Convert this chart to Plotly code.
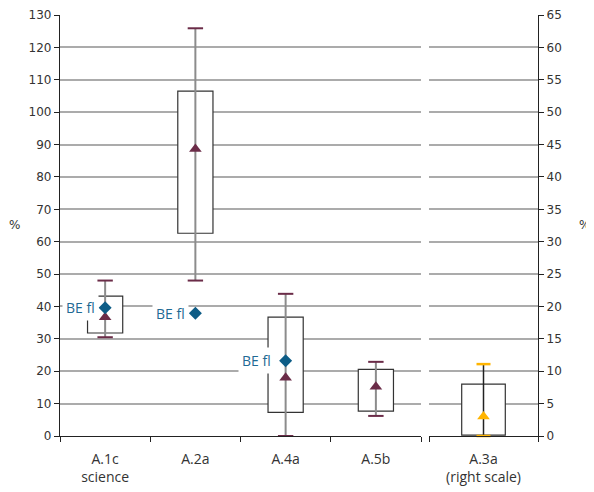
import plotly.graph_objects as go

# ---- data (left scale) ----
categories = ["A.1c<br>science", "A.2a", "A.4a", "A.5b"]
q1 = [31.8, 62.6, 7.3, 7.7]
q3 = [43.2, 106.5, 36.7, 20.6]
lo = [30.5, 48.0, 0.0, 6.2]
hi = [48.0, 125.9, 43.9, 22.9]
mean = [36.7, 88.6, 18.0, 15.2]
be_fl = [39.6, 37.9, 23.2, None]

# ---- data (right scale) ----
r_categories = ["A.3a<br>(right scale)"]
r_q1 = [0.15]
r_q3 = [8.0]
r_lo = [0.0]
r_hi = [11.1]
r_mean = [3.0]

MAROON = "#6B2C48"
GRAY = "#8C8C8C"
BLUE = "#0D5C86"
ORANGE = "#FFB400"
GRID = "#ABABAB"

fig = go.Figure()

# boxes
fig.add_trace(go.Bar(x=categories, base=q1, y=[b - a for a, b in zip(q1, q3)],
                     width=0.39, marker=dict(color="white", line=dict(color="#333333", width=1.2)),
                     xaxis="x", yaxis="y", showlegend=False, hoverinfo="skip"))
fig.add_trace(go.Bar(x=r_categories, base=r_q1, y=[b - a for a, b in zip(r_q1, r_q3)],
                     width=0.40, marker=dict(color="white", line=dict(color="#333333", width=1.2)),
                     xaxis="x2", yaxis="y2", showlegend=False, hoverinfo="skip"))

# whisker stems
sx, sy = [], []
for c, a, b in zip(categories, lo, hi):
    sx += [c, c, None]
    sy += [a, b, None]
fig.add_trace(go.Scatter(x=sx, y=sy, mode="lines", line=dict(color=GRAY, width=2),
                         xaxis="x", yaxis="y", showlegend=False, cliponaxis=False))
rsx, rsy = [], []
for c, a, b in zip(r_categories, r_lo, r_hi):
    rsx += [c, c, None]
    rsy += [a, b, None]
fig.add_trace(go.Scatter(x=rsx, y=rsy, mode="lines", line=dict(color="#222222", width=1.5),
                         xaxis="x2", yaxis="y2", showlegend=False, cliponaxis=False))

# caps
fig.add_trace(go.Scatter(x=categories + categories, y=lo + hi, mode="markers",
                         marker=dict(symbol="line-ew", size=11, line=dict(color=MAROON, width=2)),
                         xaxis="x", yaxis="y", showlegend=False, cliponaxis=False))
fig.add_trace(go.Scatter(x=r_categories + r_categories, y=r_lo + r_hi, mode="markers",
                         marker=dict(symbol="line-ew", size=10, line=dict(color=ORANGE, width=2.5)),
                         xaxis="x2", yaxis="y2", showlegend=False, cliponaxis=False))

# means
fig.add_trace(go.Scatter(x=categories, y=mean, mode="markers",
                         marker=dict(symbol="triangle-up", size=11, color=MAROON),
                         xaxis="x", yaxis="y", showlegend=False, cliponaxis=False))
fig.add_trace(go.Scatter(x=r_categories, y=r_mean, mode="markers",
                         marker=dict(symbol="triangle-up", size=11, color=ORANGE),
                         xaxis="x2", yaxis="y2", showlegend=False, cliponaxis=False))

# BE fl
bx = [c for c, v in zip(categories, be_fl) if v is not None]
by = [v for v in be_fl if v is not None]
fig.add_trace(go.Scatter(x=bx, y=by, mode="markers",
                         marker=dict(symbol="diamond", size=10, color=BLUE),
                         xaxis="x", yaxis="y", showlegend=False, cliponaxis=False))

annotations = []
shifts = [-9, -9, -14]
for c, v, s in zip(bx, by, shifts):
    annotations.append(dict(x=c, y=v, xref="x", yref="y", text="BE fl", showarrow=False,
                            xanchor="right", yanchor="middle", xshift=s + 3,
                            bgcolor="white", borderpad=3,
                            font=dict(family="Open Sans", size=14, color="#1F6A94")))

annotations.append(dict(x=(14 - 60) / 478, y=(436 - 225) / 421, xref="paper", yref="paper",
                        text="%", showarrow=False, xanchor="center", yanchor="middle",
                        font=dict(family="DejaVu Sans", size=12, color="#333333")))
annotations.append(dict(x=(577 - 60) / 478, y=(436 - 225) / 421, xref="paper", yref="paper",
                        text="%", showarrow=False, xanchor="left", yanchor="middle",
                        font=dict(family="DejaVu Sans", size=12, color="#333333")))

tickfont = dict(family="DejaVu Sans", size=12, color="#333333")
catfont = dict(family="Open Sans", size=14, color="#333333")

# page body adds an 8px offset; compensate so plot area sits at x 60..538, y 15..436
fig.update_layout(
    width=586, height=484,
    margin=dict(l=52, r=56, t=7, b=56, autoexpand=False),
    paper_bgcolor="white", plot_bgcolor="white",
    barmode="overlay",
    annotations=annotations,
    xaxis=dict(domain=[0, 361 / 478], type="category", categoryorder="array",
               categoryarray=categories, range=[-0.5, 3.5], tickson="boundaries",
               ticks="outside", ticklen=5, tickcolor="#222222", showline=True,
               linecolor="#222222", linewidth=1.3, showgrid=False, tickfont=catfont,
               ticklabelstandoff=10,
               anchor="y", fixedrange=True, automargin=False),
    xaxis2=dict(domain=[369 / 478, 1], type="category", categoryorder="array",
                categoryarray=r_categories, range=[-0.5, 0.5], tickson="boundaries",
                ticks="outside", ticklen=5, tickcolor="#222222", showline=True,
                linecolor="#222222", linewidth=1.3, showgrid=False, tickfont=catfont,
                ticklabelstandoff=10,
                anchor="y2", fixedrange=True, automargin=False),
    yaxis=dict(range=[0, 130], dtick=10, tick0=0, ticks="outside", ticklen=5,
               tickcolor="#222222", showline=True, linecolor="#222222", linewidth=1.3,
               showgrid=True, gridcolor=GRID, gridwidth=1.5, zeroline=False,
               tickfont=tickfont, anchor="x", side="left", automargin=False),
    yaxis2=dict(range=[0, 65], dtick=5, tick0=0, ticks="outside", ticklen=5,
                tickcolor="#222222", showline=True, linecolor="#222222", linewidth=1.3,
                showgrid=True, gridcolor=GRID, gridwidth=1.5, zeroline=False,
                tickfont=tickfont, anchor="x2", side="right", automargin=False),
)

fig.write_html("out.html")
